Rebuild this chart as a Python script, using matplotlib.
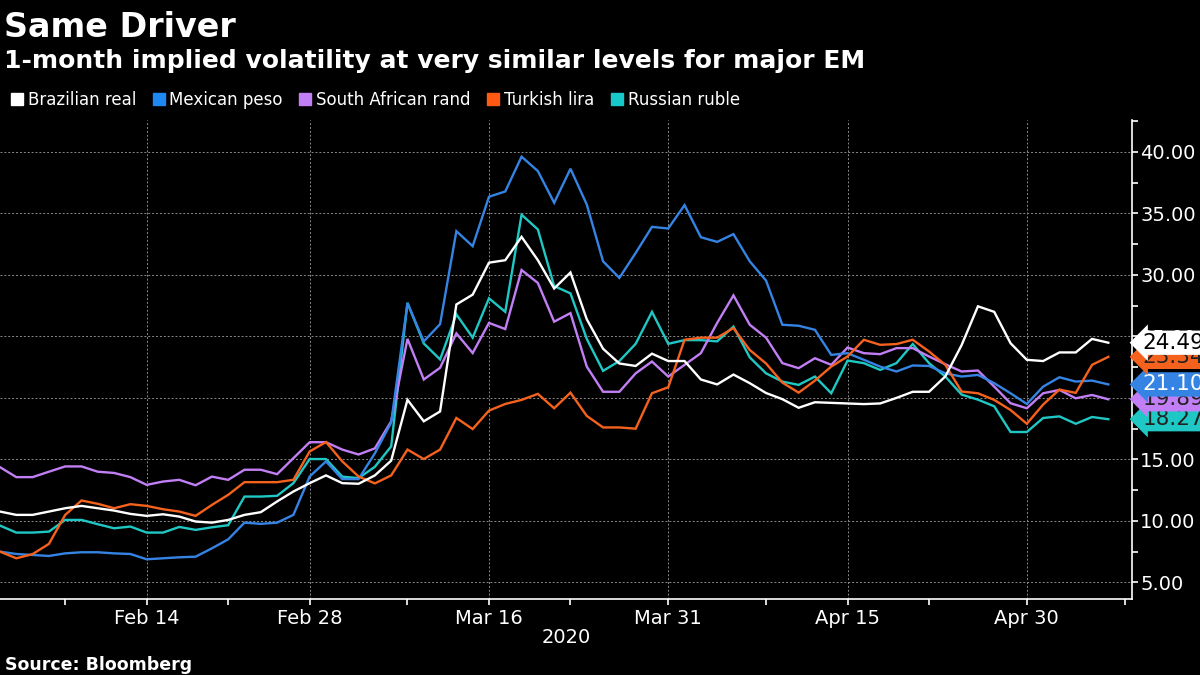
import pandas as pd
import matplotlib.pyplot as plt
from matplotlib.lines import Line2D
import matplotlib.transforms as mtransforms

# business days from Feb 3 to May 7, 2020
dates = pd.bdate_range('2020-02-03', periods=69)

brl = [10.76, 10.49, 10.49, 10.76, 11.03, 11.22, 11.03, 10.84, 10.57, 10.41,
       10.54, 10.35, 9.95, 9.86, 10.08, 10.49, 10.71, 11.58, 12.39, 13.07,
       13.70, 13.07, 13.02, 13.70, 14.90, 19.85, 18.10, 18.90, 27.60, 28.40,
       31.00, 31.20, 33.10, 31.20, 28.90, 30.20, 26.40, 24.00, 22.80, 22.60,
       23.60, 23.00, 23.00, 21.50, 21.10, 21.90, 21.20, 20.40, 19.90, 19.20,
       19.65, 19.60, 19.55, 19.50, 19.55, 20.00, 20.50, 20.50, 21.75, 24.30,
       27.45, 27.00, 24.45, 23.10, 23.00, 23.70, 23.70, 24.80, 24.49]
mxn = [7.50, 7.31, 7.23, 7.15, 7.36, 7.45, 7.45, 7.36, 7.31, 6.88,
       6.96, 7.04, 7.09, 7.77, 8.50, 9.86, 9.76, 9.86, 10.49, 13.61,
       14.84, 13.40, 13.40, 15.50, 18.00, 27.70, 24.60, 26.00, 33.56, 32.34,
       36.36, 36.79, 39.62, 38.45, 35.87, 38.64, 35.73, 31.11, 29.76, 31.79,
       33.91, 33.78, 35.68, 33.07, 32.69, 33.32, 31.11, 29.54, 25.95, 25.87,
       25.54, 23.50, 23.64, 23.10, 22.55, 22.15, 22.64, 22.60, 22.00, 21.74,
       21.87, 21.20, 20.38, 19.51, 20.92, 21.68, 21.33, 21.41, 21.10]
zar = [14.37, 13.56, 13.56, 14.00, 14.43, 14.43, 14.00, 13.90, 13.56, 12.93,
       13.20, 13.34, 12.90, 13.60, 13.34, 14.16, 14.16, 13.80, 15.10, 16.40,
       16.40, 15.80, 15.40, 15.90, 18.10, 24.80, 21.50, 22.45, 25.25, 23.65,
       26.10, 25.60, 30.40, 29.35, 26.20, 26.90, 22.55, 20.50, 20.50, 22.00,
       22.96, 21.74, 22.69, 23.64, 26.10, 28.34, 25.95, 24.90, 22.83, 22.42,
       23.23, 22.69, 24.10, 23.64, 23.56, 24.05, 24.05, 23.37, 22.74, 22.15,
       22.23, 20.92, 19.57, 19.16, 20.38, 20.65, 19.97, 20.24, 19.89]
tryl = [7.50, 6.96, 7.30, 8.13, 10.49, 11.66, 11.39, 11.03, 11.36, 11.22,
        10.95, 10.76, 10.41, 11.30, 12.12, 13.15, 13.15, 13.15, 13.34, 15.65,
        16.41, 14.84, 13.61, 13.05, 13.70, 15.80, 15.03, 15.80, 18.37, 17.47,
        18.97, 19.51, 19.84, 20.33, 19.16, 20.43, 18.54, 17.60, 17.60, 17.50,
        20.38, 20.87, 24.73, 24.90, 24.90, 25.68, 23.90, 22.80, 21.25, 20.43,
        21.41, 22.55, 23.37, 24.73, 24.32, 24.38, 24.73, 23.78, 22.69, 20.52,
        20.38, 19.84, 19.02, 17.90, 19.46, 20.68, 20.41, 22.69, 23.34]
rub = [9.62, 9.05, 9.05, 9.13, 10.08, 10.08, 9.73, 9.40, 9.54, 9.05,
       9.05, 9.51, 9.27, 9.48, 9.65, 11.98, 11.98, 12.04, 13.07, 15.03,
       15.03, 13.60, 13.48, 14.40, 16.06, 27.74, 24.43, 23.13, 26.80, 24.90,
       28.10, 27.00, 34.90, 33.70, 29.10, 28.50, 24.80, 22.20, 23.00, 24.40,
       27.00, 24.40, 24.70, 24.70, 24.60, 25.80, 23.30, 22.00, 21.33, 21.06,
       21.74, 20.38, 23.04, 22.83, 22.28, 22.83, 24.38, 22.83, 21.74, 20.27,
       19.86, 19.32, 17.23, 17.23, 18.37, 18.50, 17.90, 18.45, 18.27]

names = ['Brazilian real', 'Mexican peso', 'South African rand', 'Turkish lira', 'Russian ruble']
series = [brl, mxn, zar, tryl, rub]
colors = ['#ffffff', '#3584e4', '#c27ff5', '#f5621e', '#1fc8c4']
legend_colors = ['#ffffff', '#1e88f5', '#c27ff5', '#ff5a14', '#17c9c9']
label_text_colors = ['black', 'white', '#222222', '#222222', '#222222']
zorders = [7, 5, 4, 6, 3]

plt.rcParams['font.family'] = ['DejaVu Sans']

fig = plt.figure(figsize=(12, 6.75), dpi=100, facecolor='black')
ax = fig.add_axes([0.0, 0.1126, 0.9433, 0.7096])
ax.set_facecolor('black')

x = list(range(len(dates)))
for s, c, z in zip(series, colors, zorders):
    ax.plot(x, s, color=c, lw=1.7, zorder=z, solid_joinstyle='miter')

ax.set_xlim(0, 69.45)
ax.set_ylim(3.65, 42.6)

# axes styling
for side in ['top', 'left']:
    ax.spines[side].set_visible(False)
ax.spines['right'].set_color('white')
ax.spines['bottom'].set_color('white')
ax.spines['right'].set_linewidth(1.2)
ax.spines['bottom'].set_linewidth(1.2)

ax.yaxis.tick_right()
ax.set_yticks([5, 10, 15, 20, 25, 30, 35, 40])
ax.set_yticklabels(['%.2f' % v for v in [5, 10, 15, 20, 25, 30, 35, 40]])
ax.set_yticks([7.5, 12.5, 17.5, 22.5, 27.5, 32.5, 37.5, 42.5], minor=True)
ax.tick_params(axis='y', which='both', colors='white', length=4, width=1.2,
               labelsize=14, pad=2)

major_idx = [9, 19, 30, 41, 52, 63]
ax.set_xticks(major_idx)
ax.set_xticklabels([dates[i].strftime('%b %d').replace(' 0', ' ') for i in major_idx])
ax.set_xticks([4, 14, 25, 35, 47, 57, 69], minor=True)
ax.tick_params(axis='x', which='both', colors='white', length=4, width=1.2,
               labelsize=14, pad=3)

ax.grid(True, which='major', color='#8a8a8a', linestyle=(0, (2, 2)), linewidth=0.7)

# end-of-line value labels
trans = mtransforms.blended_transform_factory(ax.transAxes, ax.transData)
for s, c, tc, z in zip(series, colors, label_text_colors, zorders):
    ax.annotate('%.2f' % s[-1], xy=(1.0, s[-1]), xycoords=trans,
                xytext=(7.5, 0), textcoords='offset points',
                ha='left', va='center', fontsize=15.5, color=tc,
                bbox=dict(boxstyle='larrow,pad=0.1', fc=c, ec='none'),
                annotation_clip=False, zorder=20 + z)

# titles
fig.text(0.003, 0.945, 'Same Driver', color='white', fontsize=24,
         fontweight='bold', va='baseline')
fig.text(0.003, 0.899, '1-month implied volatility at very similar levels for major EM',
         color='white', fontsize=18, fontweight='bold', va='baseline')

handles = [Line2D([], [], marker='s', color=c, linestyle='none', markersize=9)
           for c in legend_colors]
fig.legend(handles, names, loc='center left', bbox_to_anchor=(-0.004, 0.852),
           ncol=5, frameon=False, fontsize=12, labelcolor='white',
           handlelength=0.8, handletextpad=0.25, columnspacing=0.95)

fig.text(0.4715, 0.055, '2020', color='white', fontsize=14, ha='center', va='center')
fig.text(0.004, 0.0074, 'Source: Bloomberg', color='white', fontsize=12.5,
         fontweight='bold', va='baseline')

fig.savefig('out.png', dpi=100, facecolor='black')
